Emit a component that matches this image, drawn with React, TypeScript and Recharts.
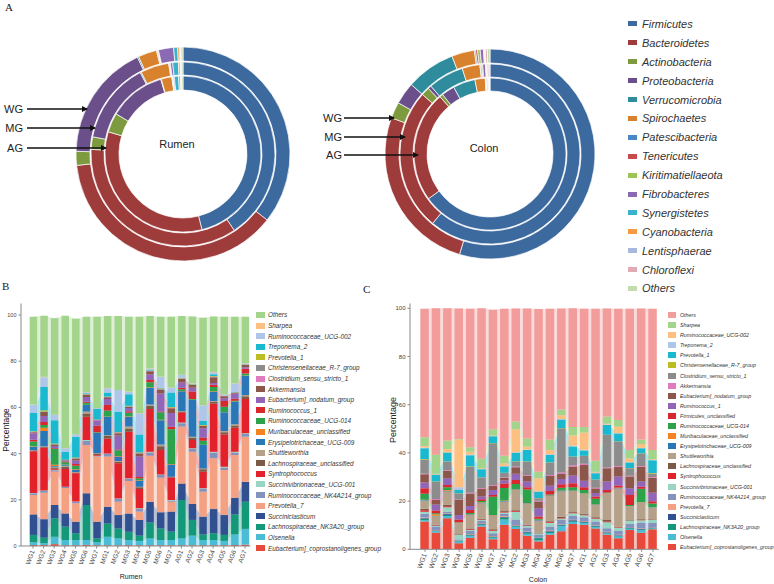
import { PieChart, Pie, Cell, ComposedChart, Bar, Area, XAxis, YAxis } from 'recharts'

const font = "'Liberation Sans', Arial, sans-serif"

// ---- panel A: phyla, relative abundance (%) per ring ----
const phyla = [
  'Firmicutes', 'Bacteroidetes', 'Actinobacteria', 'Proteobacteria', 'Verrucomicrobia',
  'Spirochaetes', 'Patescibacteria', 'Tenericutes', 'Kiritimatiellaeota', 'Fibrobacteres',
  'Synergistetes', 'Cyanobacteria', 'Lentisphaerae', 'Chloroflexi', 'Others',
]
const phylaColors = [
  '#3d6a9e', '#9e3b3b', '#7e9a3e', '#6b4f8a', '#2e8c9c', '#d9822e', '#4a86c8', '#c94a4a',
  '#9cc456', '#8a6ab2', '#3ab2cc', '#f79a42', '#a9b9dd', '#e2aab2', '#c3dcab',
]
const rumenWG = [35.6, 37.7, 2.1, 17.6, 0.2, 2.8, 0.1, 0.1, 0.1, 2.3, 0.6, 0.3, 0.1, 0.1, 0.3]
const rumenMG = [40.6, 35.2, 2.2, 14.3, 0.2, 5.0, 0.1, 0.1, 0.1, 0.4, 1.0, 0.3, 0.1, 0.1, 0.3]
const rumenAG = [46.1, 33.5, 4.0, 11.8, 0.1, 2.2, 0.1, 0.1, 0.1, 0.2, 0.9, 0.4, 0.1, 0.1, 0.3]
const colonWG = [54.7, 25.9, 2.5, 3.4, 7.6, 3.5, 0.2, 0.3, 0.4, 0.5, 0.1, 0.1, 0.1, 0.3, 0.4]
const colonMG = [61.0, 25.5, 1.5, 0.6, 6.4, 3.2, 0.1, 0.2, 0.2, 0.5, 0.1, 0.1, 0.1, 0.3, 0.2]
const colonAG = [65.0, 23.6, 0.7, 2.8, 4.7, 2.2, 0.1, 0.1, 0.1, 0.2, 0.1, 0.1, 0.1, 0.1, 0.1]

// ---- panels B / C: genera, stacked bottom -> top ----
const samples = [
  'WG1', 'WG2', 'WG3', 'WG4', 'WG5', 'WG6', 'WG7',
  'MG1', 'MG2', 'MG3', 'MG4', 'MG5', 'MG6', 'MG7',
  'AG1', 'AG2', 'AG3', 'AG4', 'AG5', 'AG6', 'AG7',
]
const rumenGenera = [
  'Eubacterium]_coprostanoligenes_group', 'Olsenella', 'Lachnospiraceae_NK3A20_group', 'Succiniclasticum',
  'Prevotella_7', 'Ruminococcaceae_NK4A214_group', 'Succinivibrionaceae_UCG-001', 'Syntrophococcus',
  'Lachnospiraceae_unclassified', 'Shuttleworthia', 'Erysipelotrichaceae_UCG-009', 'Muribaculaceae_unclassified',
  'Ruminococcaceae_UCG-014', 'Ruminococcus_1', 'Eubacterium]_nodatum_group', 'Akkermansia',
  'Clostridium_sensu_stricto_1', 'Christensenellaceae_R-7_group', 'Prevotella_1', 'Treponema_2',
  'Ruminococcaceae_UCG-002', 'Sharpea', 'Others',
]
const colonGenera = [
  'Eubacterium]_coprostanoligenes_group', 'Olsenella', 'Lachnospiraceae_NK3A20_group', 'Succiniclasticum',
  'Prevotella_7', 'Ruminococcaceae_NK4A214_group', 'Succinivibrionaceae_UCG-001', 'Syntrophococcus',
  'Lachnospiraceae_unclassified', 'Shuttleworthia', 'Erysipelotrichaceae_UCG-009', 'Muribaculaceae_unclassified',
  'Ruminococcaceae_UCG-014', 'Firmicutes_unclassified', 'Ruminococcus_1', 'Eubacterium]_nodatum_group',
  'Akkermansia', 'Clostridium_sensu_stricto_1', 'Christensenellaceae_R-7_group', 'Prevotella_1',
  'Treponema_2', 'Ruminococcaceae_UCG-002', 'Sharpea', 'Others',
]
const genusColors = [
  '#e8493a', '#4bbcd6', '#13987a', '#30508f', '#f4a083', '#8493be', '#98d5c3', '#e2212a',
  '#7d5a45', '#b5a18a', '#2a77b8', '#f58220', '#2ca34a', '#d9272e', '#9265b8', '#8c564b',
  '#e07bbf', '#8c8c8c', '#bcbd22', '#1ab9cf', '#aec7e8', '#fdbf82', '#a2d48c', '#f39c9c',
]

// rows = samples, columns = rumenGenera (bottom -> top)
const rumenPct = [
  [0.4, 1.2, 3.2, 8.9, 8.4, 0.7, 0.2, 18, 0.3, 0.2, 1.5, 0.2, 2.1, 0.7, 2.8, 0.5, 0.1, 0.1, 0.2, 7.9, 3.6, 0.1, 38],
  [0.4, 0.8, 2.4, 8, 11.5, 0.7, 0.2, 18.6, 0.4, 0.2, 6.6, 1.4, 1.2, 1.3, 2.6, 1.7, 0.1, 0.1, 0.6, 10, 4.3, 0.2, 26.4],
  [0.8, 3.2, 8, 5.7, 14.6, 0.5, 0.2, 0.4, 0.6, 0.3, 0.3, 0.6, 6.8, 0.3, 1.0, 0.6, 0.1, 0.1, 0.3, 10.1, 2.2, 0.1, 41.8],
  [0.3, 2.3, 5.8, 5.7, 11, 0.5, 0.1, 7.6, 1.0, 0.5, 0.4, 0.1, 1.0, 0.3, 0.3, 0.2, 0.05, 0.05, 0.1, 3.5, 1.5, 0.1, 57.3],
  [0.3, 2.3, 2.9, 5, 8, 0.7, 0.1, 12.2, 0.3, 0.2, 1.0, 0.2, 1.5, 0.8, 1.5, 0.8, 0.1, 0.2, 0.2, 9, 1, 0.1, 50],
  [0.5, 2.1, 15.1, 5.1, 20.9, 1.8, 0.4, 10.1, 1.4, 0.8, 2.8, 0.2, 0.8, 0.5, 2, 1.0, 0.1, 0.1, 0.1, 0.3, 0.5, 0.1, 32.6],
  [0.3, 1.3, 1.7, 7.2, 28.2, 0.3, 0.1, 0.3, 0.5, 0.3, 8.7, 0.1, 0.2, 2.9, 2.2, 0.2, 0.1, 0.1, 0.1, 4.6, 0.2, 0.1, 39.6],
  [0.3, 3.7, 5.8, 7.2, 21.7, 1.2, 0.2, 6.5, 1.0, 0.4, 8, 0.1, 2.6, 2.3, 2.6, 0.8, 0.1, 0.1, 0.1, 1.8, 1.8, 0.1, 31.2],
  [0.3, 3.0, 4.3, 5.8, 5.8, 1.1, 0.3, 15.2, 0.7, 0.3, 2, 0.2, 2.5, 0.3, 6.0, 1.0, 0.2, 0.2, 0.2, 8.6, 9.5, 0.1, 32],
  [0.3, 2.3, 3.6, 7.9, 14, 1, 0.2, 20.2, 1.4, 0.8, 4.3, 0.2, 1.5, 0.6, 1.4, 0.6, 0.1, 0.1, 0.2, 5, 1.1, 0.1, 32.4],
  [0.3, 1.9, 2.3, 6.8, 3.6, 1.1, 0.3, 8.4, 0.7, 0.3, 2.6, 0.2, 0.8, 0.6, 8.8, 1.3, 0.2, 0.2, 0.2, 7.7, 9.1, 0.1, 41.8],
  [0.3, 3.0, 6.9, 9, 19.9, 1.4, 0.3, 18.5, 1.4, 0.6, 7.2, 0.2, 2.2, 1.0, 2.4, 1.4, 0.1, 0.1, 0.1, 0.3, 0.6, 0.1, 22.6],
  [0.3, 2.3, 5, 7, 15, 1.1, 0.3, 10.6, 1.6, 0.8, 10.5, 0.2, 3.2, 0.3, 7.8, 1.6, 0.2, 0.3, 0.2, 0.2, 4.8, 0.1, 25.9],
  [0.3, 2.3, 3.6, 8.7, 4.3, 0.5, 0.2, 9.8, 0.2, 0.1, 5.3, 0.2, 15.1, 1.0, 6, 2, 0.2, 0.2, 0.2, 6.3, 2, 0.1, 30.7],
  [0.3, 3.0, 16.6, 7.2, 24.6, 1.5, 0.3, 4.4, 0.3, 0.2, 8.6, 0.1, 0.8, 0.6, 2.3, 1.5, 0.1, 0.2, 0.1, 0.2, 1.1, 0.1, 25.5],
  [0.3, 4.2, 6.8, 6.9, 22.6, 1.2, 0.3, 3.6, 1.0, 0.4, 15.9, 0.1, 0.3, 3.3, 1.6, 1.2, 0.1, 0.1, 0.1, 0.1, 0.3, 0.1, 28.9],
  [0.3, 2.3, 2.4, 7.7, 10.8, 1.2, 0.3, 7.2, 1.0, 0.4, 10.1, 0.1, 1.8, 1.4, 4, 1.0, 0.1, 0.1, 0.2, 1.7, 6.7, 0.1, 37.9],
  [0.3, 2.3, 2.9, 10.5, 22, 2.4, 0.4, 20.9, 0.8, 0.3, 4, 0.2, 1.8, 1.0, 0.8, 2.5, 0.1, 0.2, 0.2, 0.8, 0.8, 0.1, 24.1],
  [0.3, 1.9, 2.6, 8.6, 19.5, 1.1, 0.3, 14, 1.0, 0.5, 8.1, 0.1, 2.3, 2.5, 1.2, 0.8, 0.1, 0.1, 0.1, 0.1, 0.4, 0.1, 33.6],
  [0.4, 4.6, 8.7, 7.2, 18.5, 1.1, 0.3, 10.4, 1.0, 0.5, 9.8, 0.1, 0.3, 0.9, 2.2, 0.4, 0.05, 0.05, 0.1, 0.1, 3.7, 0.1, 28.8],
  [0.6, 6.8, 11.8, 8.6, 19.5, 1.2, 0.3, 14.8, 1.2, 0.6, 8.3, 0.1, 0.9, 2.0, 0.7, 1.0, 0.1, 0.1, 0.1, 0.1, 0.3, 0.1, 20.1],
]

// rows = samples, columns = colonGenera (bottom -> top)
const colonPct = [
  [11.5, 0.6, 0.5, 0.3, 0.3, 1.6, 0.8, 0.6, 0.6, 3.5, 0.2, 0.1, 2.4, 2.3, 2.4, 3.4, 0.3, 5.9, 0.2, 4.4, 0.3, 0.7, 3.6, 53.3],
  [6.9, 0.6, 0.2, 0.1, 0.1, 1.6, 0.3, 0.2, 0.2, 3.5, 0.2, 0.6, 0.5, 1.1, 2.5, 1.9, 0.4, 7, 0.2, 2.8, 0.1, 0.4, 7.8, 60.8],
  [12.9, 0.9, 0.5, 0.4, 0.2, 0.7, 1.8, 0.5, 0.6, 5.6, 0.2, 0.3, 1.1, 1.0, 2.8, 3.1, 0.3, 3.5, 0.1, 3.7, 0.1, 1.3, 3.6, 54.8],
  [2.5, 0.7, 0.2, 0.1, 0.1, 0.5, 1.8, 0.1, 0.2, 4.7, 0.1, 0.1, 0.1, 1.2, 1.8, 6.3, 0.2, 2.5, 0.1, 1.3, 1.1, 19.9, 0.2, 54.1],
  [4.8, 0.8, 0.3, 0.2, 0.2, 1.4, 0.3, 0.3, 0.3, 5.6, 0.2, 0.1, 0.6, 1.2, 1.7, 5.2, 0.3, 10.8, 0.2, 4.5, 0.3, 1.2, 1.8, 57.5],
  [9.5, 0.6, 0.3, 0.3, 0.2, 0.9, 0.4, 0.2, 0.3, 6.4, 0.2, 0.2, 0.5, 0.8, 1.1, 3.2, 0.3, 4.4, 0.1, 3.3, 0.1, 0.3, 4.0, 62.4],
  [4.2, 0.6, 0.3, 0.2, 0.2, 1.2, 1.0, 0.3, 0.3, 5.5, 0.2, 0.2, 7.6, 0.7, 2.1, 1.8, 0.3, 17.3, 0.1, 2.8, 0.1, 0.2, 2.6, 49.6],
  [10.2, 2.2, 0.8, 0.3, 0.3, 0.8, 0.7, 0.3, 0.5, 3.7, 0.2, 0.2, 5.2, 1.9, 1.3, 1.0, 0.3, 1.8, 0.1, 2.6, 0.2, 1.1, 3.1, 61],
  [8.4, 1.0, 0.3, 0.2, 0.2, 2.3, 3.2, 0.3, 0.3, 8.5, 0.2, 0.1, 2.1, 1.7, 2.5, 2.8, 0.3, 2.0, 0.1, 3.6, 0.2, 9.5, 3.2, 46.9],
  [5.6, 0.9, 0.5, 0.2, 0.2, 1.6, 0.7, 0.2, 0.3, 8.7, 0.2, 0.1, 5.6, 0.9, 2.4, 2.4, 0.3, 5.6, 0.1, 4.7, 0.2, 1.2, 3.4, 53.9],
  [3.2, 0.6, 0.8, 0.2, 0.1, 1.0, 0.7, 0.1, 0.2, 5.1, 0.2, 0.1, 0.4, 0.9, 3.4, 2.8, 0.3, 1.1, 0.1, 2.6, 0.2, 5.4, 2.7, 67.5],
  [6, 0.8, 0.4, 0.3, 0.3, 1.7, 1.5, 0.3, 0.3, 10.5, 0.2, 0.1, 0.3, 1.5, 2.2, 4, 0.4, 5.2, 0.1, 3.0, 0.3, 1.8, 4.4, 54.2],
  [7.5, 2.2, 0.3, 0.2, 0.2, 1.8, 0.6, 0.2, 0.5, 10.6, 0.2, 0.1, 1.1, 1.5, 2.2, 2.0, 0.7, 18.3, 0.1, 3.6, 0.2, 1.5, 2.4, 41.9],
  [10.5, 0.8, 0.3, 0.5, 0.2, 1.5, 1.2, 0.3, 0.4, 8.5, 0.2, 0.1, 1.3, 1.6, 3.2, 3.8, 0.5, 3.5, 0.1, 4.2, 0.3, 4.2, 3.5, 49.3],
  [10.2, 0.7, 0.3, 0.3, 0.2, 1.6, 0.8, 0.2, 0.5, 8.2, 0.2, 0.1, 1.3, 1.2, 2.6, 6.6, 0.5, 3.2, 0.1, 2.2, 0.3, 7.2, 2.2, 49.1],
  [8.6, 0.7, 0.3, 0.2, 0.2, 1.5, 1.2, 0.2, 0.4, 5.1, 0.2, 0.1, 2.3, 0.9, 1.5, 1.8, 0.3, 3.4, 0.1, 2.6, 0.2, 0.4, 4.5, 63.1],
  [6, 0.6, 0.3, 0.2, 0.2, 1.4, 2.5, 0.3, 0.7, 11, 0.1, 0.1, 0.2, 1.0, 3.5, 5.5, 0.3, 13.5, 0.1, 4.1, 0.2, 0.3, 3, 44.8],
  [4.6, 0.7, 0.3, 0.2, 0.2, 1.6, 1.3, 0.2, 0.3, 15.9, 0.1, 0.1, 0.1, 0.9, 3.7, 4.1, 0.3, 10.1, 0.1, 3.3, 0.2, 2.6, 2.8, 46.1],
  [8, 0.5, 0.3, 0.2, 0.2, 1.4, 1.3, 0.1, 0.2, 5.6, 0.1, 0.1, 0.4, 4.1, 2.8, 4.9, 0.3, 3.1, 0.1, 2.3, 0.1, 1.7, 3.4, 58.6],
  [6.9, 1.0, 0.3, 0.2, 0.2, 2.5, 1.0, 0.1, 0.3, 6.9, 0.1, 0.1, 5.5, 0.9, 2.1, 6.2, 0.3, 5.2, 0.1, 2, 0.2, 1.6, 1.9, 54.3],
  [8.3, 0.3, 0.2, 0.2, 0.1, 1.8, 1.3, 0.1, 0.2, 4.8, 0.1, 0.1, 1.5, 0.9, 3.6, 6.2, 0.3, 1.5, 0.2, 5.3, 0.1, 0.3, 3.8, 58.6],
]

const pctTicks = [0, 20, 40, 60, 80, 100]

const ring = (vals: number[]) => phyla.map((p, i) => ({ name: p, value: vals[i] }))

const Ring = (props: any) => (
  <Pie
    data={ring(props.vals)}
    dataKey="value"
    cx={props.cx}
    cy={props.cy}
    innerRadius={props.r0}
    outerRadius={props.r1}
    startAngle={90}
    endAngle={-270}
    stroke="#fff"
    strokeWidth={0.7}
    isAnimationActive={false}
  >
    {phyla.map((p, i) => <Cell key={p} fill={phylaColors[i]} />)}
  </Pie>
)

const rotTick = (fs: number) => (props: any) => {
  const { x, y, payload } = props
  return (
    <text x={x} y={y} dy={fs * 0.3} transform={`rotate(-70 ${x} ${y})`} textAnchor="end"
      fontSize={fs} fill="#444" fontFamily={font}>
      {payload.value}
    </text>
  )
}

const BarPanel = (props: any) => {
  const { genera, rows, box, yMax, yWidth, padLeft, barSize, xFont, yFont } = props
  const data = samples.map((s, i) => {
    const row: any = { name: s }
    genera.forEach((_: string, j: number) => { row['g' + j] = rows[i][j] })
    return row
  })
  return (
    <div style={{ position: 'absolute', left: box.left, top: box.top }}>
      <ComposedChart width={box.width} height={box.height} data={data} margin={box.margin}>
        <XAxis dataKey="name" interval={0} height={30} tickSize={2.5} padding={{ left: padLeft, right: 0 }}
          axisLine={{ stroke: '#888' }} tickLine={{ stroke: '#888' }} tick={rotTick(xFont)} />
        <YAxis domain={[0, yMax]} ticks={pctTicks} allowDataOverflow width={yWidth} tickSize={2.5}
          axisLine={{ stroke: '#888' }} tickLine={{ stroke: '#888' }}
          tick={{ fontSize: yFont, fill: '#444', fontFamily: font }} />
        {genera.map((g: string, j: number) => (
          <Area key={'a' + g} dataKey={'g' + j} stackId="flow" type="linear" stroke="none"
            fill={genusColors[j]} fillOpacity={0.35} dot={false} activeDot={false} isAnimationActive={false} />
        ))}
        {genera.map((g: string, j: number) => (
          <Bar key={'b' + g} dataKey={'g' + j} stackId="bars" fill={genusColors[j]} barSize={barSize}
            isAnimationActive={false} />
        ))}
      </ComposedChart>
    </div>
  )
}

const abs = (left: number, top: number, extra: any = {}) => ({ position: 'absolute' as const, left, top, ...extra })

const GenusLegend = (props: any) => {
  const { genera, left, top, step, sw, fs, gap } = props
  const items = [...genera].map((g: string, j: number) => ({ g, c: genusColors[j] })).reverse()
  return (
    <div style={abs(left, top)}>
      {items.map((it: any) => (
        <div key={it.g} style={{ height: step, display: 'flex', alignItems: 'center' }}>
          <span style={{ width: sw, height: 6, background: it.c, marginRight: gap, flex: 'none' }} />
          <span style={{ fontSize: fs, fontStyle: 'italic', color: '#333', fontFamily: font, whiteSpace: 'nowrap' }}>{it.g}</span>
        </div>
      ))}
    </div>
  )
}

const Arrow = (props: any) => (
  <line x1={props.x1} y1={props.y} x2={props.x2} y2={props.y} stroke="#111" strokeWidth={1.3} markerEnd="url(#arrowhead)" />
)

const lbl = (text: string, right: number, cy: number) => (
  <div style={abs(right - 40, cy - 7, { width: 40, textAlign: 'right', fontSize: 11, lineHeight: '14px', color: '#222', fontFamily: font })}>{text}</div>
)

export default function App() {
  return (
    <div style={{ position: 'absolute', left: 0, top: 0, width: 774, height: 584, background: '#fff', fontFamily: font, overflow: 'hidden' }}>
      <div style={abs(0, 0)}>
        <PieChart width={620} height={280}>
          {Ring({ vals: rumenWG, cx: 178, cy: 149, r0: 93, r1: 107 })}
          {Ring({ vals: rumenMG, cx: 178, cy: 149, r0: 79, r1: 92 })}
          {Ring({ vals: rumenAG, cx: 178, cy: 149, r0: 64, r1: 78 })}
          {Ring({ vals: colonWG, cx: 485, cy: 149, r0: 91, r1: 105 })}
          {Ring({ vals: colonMG, cx: 485, cy: 149, r0: 77, r1: 90 })}
          {Ring({ vals: colonAG, cx: 485, cy: 149, r0: 63, r1: 76 })}
        </PieChart>
      </div>

      <svg width={774} height={280} style={abs(0, 0, { pointerEvents: 'none' })}>
        <defs>
          <marker id="arrowhead" markerWidth="6" markerHeight="6" refX="5" refY="3" orient="auto" markerUnits="userSpaceOnUse">
            <path d="M0,0 L6,3 L0,6 z" fill="#111" />
          </marker>
        </defs>
        <Arrow x1={27} x2={87} y={109} />
        <Arrow x1={27} x2={95} y={128} />
        <Arrow x1={27} x2={106} y={148} />
        <Arrow x1={344} x2={394} y={118} />
        <Arrow x1={344} x2={405} y={137} />
        <Arrow x1={344} x2={418} y={155} />
      </svg>

      {lbl('WG', 23, 109)}
      {lbl('MG', 23, 128)}
      {lbl('AG', 23, 148)}
      {lbl('WG', 342, 118)}
      {lbl('MG', 342, 137)}
      {lbl('AG', 342, 155)}

      <div style={abs(147, 137, { width: 60, textAlign: 'center', fontSize: 11, lineHeight: '14px', color: '#222' })}>Rumen</div>
      <div style={abs(454, 141, { width: 60, textAlign: 'center', fontSize: 11, lineHeight: '14px', color: '#222' })}>Colon</div>

      <div style={abs(628, 24 - 9.45)}>
        {phyla.map((p, i) => (
          <div key={p} style={{ height: 18.9, display: 'flex', alignItems: 'center' }}>
            <span style={{ width: 9, height: 5, background: phylaColors[i], marginRight: 5, flex: 'none' }} />
            <span style={{ fontSize: 11, fontStyle: 'italic', color: '#333' }}>{p}</span>
          </div>
        ))}
      </div>

      <BarPanel genera={rumenGenera} rows={rumenPct} yMax={105} yWidth={21} padLeft={6.7} barSize={7.5}
        xFont={6.5} yFont={5.5}
        box={{ left: 0, top: 280, width: 260, height: 304, margin: { top: 23.5, right: 9.7, left: 0, bottom: 8 } }} />
      <BarPanel genera={colonGenera} rows={colonPct} yMax={102} yWidth={40} padLeft={9.3} barSize={8.5}
        xFont={6.8} yFont={6}
        box={{ left: 370, top: 280, width: 300, height: 304, margin: { top: 23.5, right: 11.3, left: 0, bottom: 4.7 } }} />

      <GenusLegend genera={rumenGenera} left={256} top={315 - 5.3} step={10.6} sw={9} fs={6.4} gap={3} />
      <GenusLegend genera={colonGenera} left={668} top={315 - 5.05} step={10.1} sw={8} fs={5.3} gap={4} />

      <div style={abs(6 - 30, 430 - 6, { width: 60, textAlign: 'center', fontSize: 8.5, lineHeight: '12px', color: '#222', transform: 'rotate(-90deg)' })}>Percentage</div>
      <div style={abs(393 - 30, 420 - 6, { width: 60, textAlign: 'center', fontSize: 9, lineHeight: '12px', color: '#222', transform: 'rotate(-90deg)' })}>Percentage</div>
      <div style={abs(131 - 25, 577 - 5, { width: 50, textAlign: 'center', fontSize: 7, lineHeight: '10px', color: '#222' })}>Rumen</div>
      <div style={abs(538 - 25, 580 - 5, { width: 50, textAlign: 'center', fontSize: 7, lineHeight: '10px', color: '#222' })}>Colon</div>

      <div style={abs(5, 1, { fontFamily: "'Liberation Serif', serif", fontSize: 11, lineHeight: '12px', color: '#222' })}>A</div>
      <div style={abs(2, 280, { fontFamily: "'Liberation Serif', serif", fontSize: 11, lineHeight: '12px', color: '#222' })}>B</div>
      <div style={abs(363, 283, { fontFamily: "'Liberation Serif', serif", fontSize: 11, lineHeight: '12px', color: '#222' })}>C</div>
    </div>
  )
}
